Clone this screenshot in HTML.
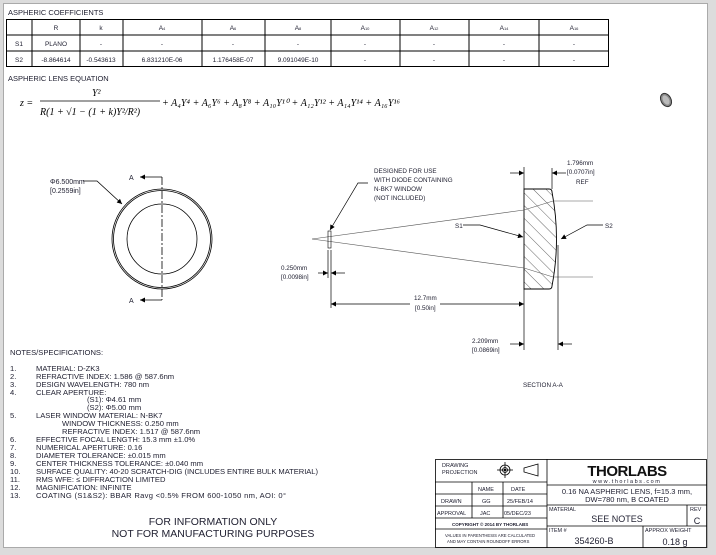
<!DOCTYPE html>
<html><head><meta charset="utf-8"><style>
body{margin:0;background:#e4e4e4;}
svg{display:block;font-family:"Liberation Sans",sans-serif;}
</style></head><body>
<svg width="716" height="555" viewBox="0 0 716 555" xmlns="http://www.w3.org/2000/svg">
<defs>
<marker id="ar" viewBox="0 0 10 10" refX="10" refY="5" markerWidth="8" markerHeight="5" orient="auto-start-reverse" markerUnits="userSpaceOnUse"><path d="M0,0L10,5L0,10z" fill="#000"/></marker>
<pattern id="hatch" width="9" height="9" patternUnits="userSpaceOnUse" patternTransform="rotate(-45)"><line x1="0" y1="0" x2="0" y2="9" stroke="#000" stroke-width="0.6"/></pattern>
</defs>
<rect x="0" y="0" width="716" height="555" fill="#dcdcdc"/>
<rect x="3.5" y="3.5" width="704" height="544" fill="#fff" stroke="#aaa" stroke-width="1"/>

<!-- coefficients table -->
<text x="8" y="15" font-size="7.5" fill="#223">ASPHERIC COEFFICIENTS</text>
<g stroke="#000" stroke-width="1" fill="none">
<rect x="6.5" y="19.5" width="602" height="47"/>
<line x1="6" y1="35" x2="609" y2="35"/><line x1="6" y1="51" x2="609" y2="51"/>
<line x1="32" y1="19" x2="32" y2="67"/><line x1="80" y1="19" x2="80" y2="67"/><line x1="123" y1="19" x2="123" y2="67"/>
<line x1="202" y1="19" x2="202" y2="67"/><line x1="265" y1="19" x2="265" y2="67"/><line x1="331" y1="19" x2="331" y2="67"/>
<line x1="400" y1="19" x2="400" y2="67"/><line x1="469" y1="19" x2="469" y2="67"/><line x1="539" y1="19" x2="539" y2="67"/>
</g>
<g font-size="6.5" text-anchor="middle" fill="#223">
<text x="56" y="30">R</text><text x="101" y="30">k</text><text x="162" y="30">A<tspan font-size="4">4</tspan></text><text x="233" y="30">A<tspan font-size="4">6</tspan></text><text x="298" y="30">A<tspan font-size="4">8</tspan></text><text x="365" y="30">A<tspan font-size="4">10</tspan></text><text x="434" y="30">A<tspan font-size="4">12</tspan></text><text x="504" y="30">A<tspan font-size="4">14</tspan></text><text x="574" y="30">A<tspan font-size="4">16</tspan></text>
<text x="19" y="46">S1</text><text x="56" y="46">PLANO</text><text x="101" y="46">-</text><text x="162" y="46">-</text><text x="233" y="46">-</text><text x="298" y="46">-</text><text x="365" y="46">-</text><text x="434" y="46">-</text><text x="504" y="46">-</text><text x="574" y="46">-</text>
<text x="19" y="62">S2</text><text x="56" y="62">-8.864614</text><text x="101" y="62">-0.543613</text><text x="162" y="62">6.831210E-06</text><text x="233" y="62">1.176458E-07</text><text x="298" y="62">9.091049E-10</text><text x="365" y="62">-</text><text x="434" y="62">-</text><text x="504" y="62">-</text><text x="574" y="62">-</text>
</g>
<text x="8" y="81" font-size="7.5" fill="#223">ASPHERIC LENS EQUATION</text>
<g font-family="Liberation Serif,serif" font-style="italic" font-size="10" fill="#000">
<text x="20" y="106">z =</text>
<text x="92" y="96">Y²</text>
<line x1="40" y1="101" x2="160" y2="101" stroke="#000" stroke-width="0.7"/>
<text x="40" y="115">R(1 + √1 − (1 + k)Y²/R²)</text>
<text x="162" y="106" textLength="238">+ A₄Y⁴ + A₆Y⁶ + A₈Y⁸ + A₁₀Y¹⁰ + A₁₂Y¹² + A₁₄Y¹⁴ + A₁₆Y¹⁶</text>
</g>
<ellipse cx="666" cy="100" rx="5" ry="7" fill="#888" stroke="#333" transform="rotate(-30 666 100)"/>
<ellipse cx="666" cy="100" rx="3" ry="5" fill="#bbb" transform="rotate(-30 666 100)"/>

<!-- front view -->
<g fill="none" stroke="#000">
<circle cx="162" cy="239" r="50" stroke-width="0.8"/>
<circle cx="162" cy="239" r="48.5" stroke-width="0.8"/>
<circle cx="162" cy="239" r="35" stroke-width="0.8"/>
<line x1="162" y1="177" x2="162" y2="300" stroke-width="0.8" stroke-dasharray="8,2,2,2"/>
<line x1="162" y1="177" x2="140" y2="177" stroke-width="0.8" marker-end="url(#ar)"/>
<line x1="162" y1="300" x2="140" y2="300" stroke-width="0.8" marker-end="url(#ar)"/>
<polyline points="83,181 97,181 122,204" stroke-width="0.8" marker-end="url(#ar)"/>
</g>
<g font-size="7" fill="#223">
<text x="129" y="180">A</text><text x="129" y="303">A</text>
<text x="50" y="184">Φ6.500mm</text><text x="50" y="193">[0.2559in]</text>
</g>

<!-- section view -->
<path d="M524,189 L549,189 Q552,189 552,192 Q561,239 552,286 Q552,289 549,289 L524,289 Z" fill="url(#hatch)" stroke="#000" stroke-width="0.9"/>
<g stroke="#555" stroke-width="0.6" fill="none">
<polyline points="312,239 524,210 553,201 593,201"/>
<polyline points="312,239 524,268 553,277 593,277"/>
</g>
<rect x="328" y="231" width="3" height="17" fill="none" stroke="#000" stroke-width="0.6"/>
<g stroke="#000" stroke-width="0.7" fill="none">
<line x1="331" y1="250" x2="331" y2="308"/><line x1="328" y1="250" x2="328" y2="278"/>
<line x1="318" y1="273" x2="328" y2="273" marker-end="url(#ar)"/><line x1="345" y1="273" x2="331" y2="273" marker-end="url(#ar)"/>
<line x1="524" y1="289" x2="524" y2="350"/>
<line x1="410" y1="304" x2="331" y2="304" marker-end="url(#ar)"/><line x1="440" y1="304" x2="524" y2="304" marker-end="url(#ar)"/>
<line x1="558" y1="245" x2="558" y2="350"/>
<line x1="510" y1="344" x2="524" y2="344" marker-end="url(#ar)"/><line x1="572" y1="344" x2="558" y2="344" marker-end="url(#ar)"/>
<line x1="524" y1="167" x2="524" y2="189"/><line x1="552" y1="168" x2="552" y2="189"/>
<line x1="510" y1="173" x2="524" y2="173" marker-end="url(#ar)"/><line x1="566" y1="173" x2="552" y2="173" marker-end="url(#ar)"/>
<polyline points="463,225 480,225 523,237" marker-end="url(#ar)"/>
<polyline points="603,225 587,225 561,239" marker-end="url(#ar)"/>
<polyline points="368,183 358,183 330,230" marker-end="url(#ar)"/>
</g>
<g font-size="6.3" fill="#223">
<text x="374" y="173">DESIGNED FOR USE</text><text x="374" y="182">WITH DIODE CONTAINING</text><text x="374" y="191">N-BK7 WINDOW</text><text x="374" y="200">(NOT INCLUDED)</text>
<text x="567" y="165">1.796mm</text><text x="567" y="174">[0.0707in]</text><text x="576" y="184">REF</text>
<text x="455" y="228">S1</text><text x="605" y="228">S2</text>
<text x="281" y="270">0.250mm</text><text x="281" y="279">[0.0098in]</text>
<text x="414" y="300">12.7mm</text><text x="415" y="310">[0.50in]</text>
<text x="472" y="343">2.209mm</text><text x="472" y="352">[0.0869in]</text>
<text x="523" y="387">SECTION A-A</text>
</g>

<!-- notes -->
<g font-size="7.6" fill="#223">
<text x="10" y="355">NOTES/SPECIFICATIONS:</text>
<g>
<text x="10" y="371">1.</text><text x="36" y="371">MATERIAL: D-ZK3</text>
<text x="10" y="379">2.</text><text x="36" y="379">REFRACTIVE INDEX: 1.586 @ 587.6nm</text>
<text x="10" y="387">3.</text><text x="36" y="387">DESIGN WAVELENGTH: 780 nm</text>
<text x="10" y="395">4.</text><text x="36" y="395">CLEAR APERTURE:</text>
<text x="87" y="402">(S1): Φ4.61 mm</text>
<text x="87" y="410">(S2): Φ5.00 mm</text>
<text x="10" y="418">5.</text><text x="36" y="418">LASER WINDOW MATERIAL: N-BK7</text>
<text x="62" y="426">WINDOW THICKNESS: 0.250 mm</text>
<text x="62" y="434">REFRACTIVE INDEX: 1.517 @ 587.6nm</text>
<text x="10" y="442">6.</text><text x="36" y="442">EFFECTIVE FOCAL LENGTH: 15.3 mm ±1.0%</text>
<text x="10" y="450">7.</text><text x="36" y="450">NUMERICAL APERTURE: 0.16</text>
<text x="10" y="458">8.</text><text x="36" y="458">DIAMETER TOLERANCE: ±0.015 mm</text>
<text x="10" y="466">9.</text><text x="36" y="466">CENTER THICKNESS TOLERANCE: ±0.040 mm</text>
<text x="10" y="474">10.</text><text x="36" y="474" textLength="282">SURFACE QUALITY: 40-20 SCRATCH-DIG (INCLUDES ENTIRE BULK MATERIAL)</text>
<text x="10" y="482">11.</text><text x="36" y="482">RMS WFE: ≤ DIFFRACTION LIMITED</text>
<text x="10" y="490">12.</text><text x="36" y="490">MAGNIFICATION: INFINITE</text>
<text x="10" y="498">13.</text><text x="36" y="498" textLength="250">COATING (S1&amp;S2): BBAR Ravg &lt;0.5% FROM 600-1050 nm, AOI: 0°</text>
</g>
<text x="213" y="525" font-size="10.5" text-anchor="middle">FOR INFORMATION ONLY</text>
<text x="213" y="537" font-size="10.5" text-anchor="middle">NOT FOR MANUFACTURING PURPOSES</text>
</g>

<!-- title block -->
<g stroke="#000" stroke-width="0.8" fill="none">
<rect x="435.5" y="459.5" width="271" height="88"/>
<line x1="547" y1="459" x2="547" y2="548"/>
<line x1="435" y1="482" x2="547" y2="482"/><line x1="435" y1="494" x2="547" y2="494"/><line x1="435" y1="506" x2="547" y2="506"/><line x1="435" y1="518" x2="547" y2="518"/><line x1="435" y1="529" x2="547" y2="529"/>
<line x1="472" y1="482" x2="472" y2="518"/><line x1="503" y1="482" x2="503" y2="518"/>
<line x1="547" y1="485" x2="707" y2="485"/><line x1="547" y1="505" x2="707" y2="505"/><line x1="547" y1="526" x2="707" y2="526"/>
<line x1="687" y1="505" x2="687" y2="526"/><line x1="643" y1="526" x2="643" y2="548"/>
<circle cx="505" cy="470" r="5"/><circle cx="505" cy="470" r="2.5"/><circle cx="505" cy="470" r="0.8" fill="#000"/>
<line x1="497" y1="470" x2="513" y2="470"/><line x1="505" y1="462" x2="505" y2="478"/>
<polygon points="524,468 538,464 538,476 524,472"/>
</g>
<g fill="#223" font-size="5.5">
<text x="442" y="467">DRAWING</text><text x="442" y="474">PROJECTION</text>
<text x="478" y="491">NAME</text><text x="511" y="491">DATE</text>
<text x="441" y="503">DRAWN</text><text x="482" y="503">GG</text><text x="507" y="503">25/FEB/14</text>
<text x="437" y="515">APPROVAL</text><text x="480" y="515">JAC</text><text x="504" y="515">05/DEC/23</text>
<text x="452" y="526" font-size="4.5" font-weight="bold">COPYRIGHT © 2014 BY THORLABS</text>
<text x="445" y="537" font-size="4.2">VALUES IN PARENTHESIS ARE CALCULATED</text>
<text x="447" y="543" font-size="4.2">AND MAY CONTAIN ROUNDOFF ERRORS</text>
<text x="627" y="476" font-size="15" font-weight="bold" text-anchor="middle" fill="#111" letter-spacing="-0.5">THORLABS</text>
<text x="627" y="483" font-size="5.5" text-anchor="middle" letter-spacing="1.5">www.thorlabs.com</text>
<text x="627" y="494" font-size="7.5" text-anchor="middle">0.16 NA ASPHERIC LENS, f=15.3 mm,</text>
<text x="627" y="502" font-size="7.5" text-anchor="middle">DW=780 nm, B COATED</text>
<text x="549" y="511">MATERIAL</text><text x="617" y="522" font-size="9" text-anchor="middle">SEE NOTES</text>
<text x="690" y="511">REV</text><text x="697" y="524" font-size="9" text-anchor="middle">C</text>
<text x="549" y="532">ITEM #</text><text x="594" y="544" font-size="9" text-anchor="middle">354260-B</text>
<text x="645" y="532">APPROX WEIGHT</text><text x="675" y="545" font-size="9" text-anchor="middle">0.18 g</text>
</g>
</svg>
</body></html>
